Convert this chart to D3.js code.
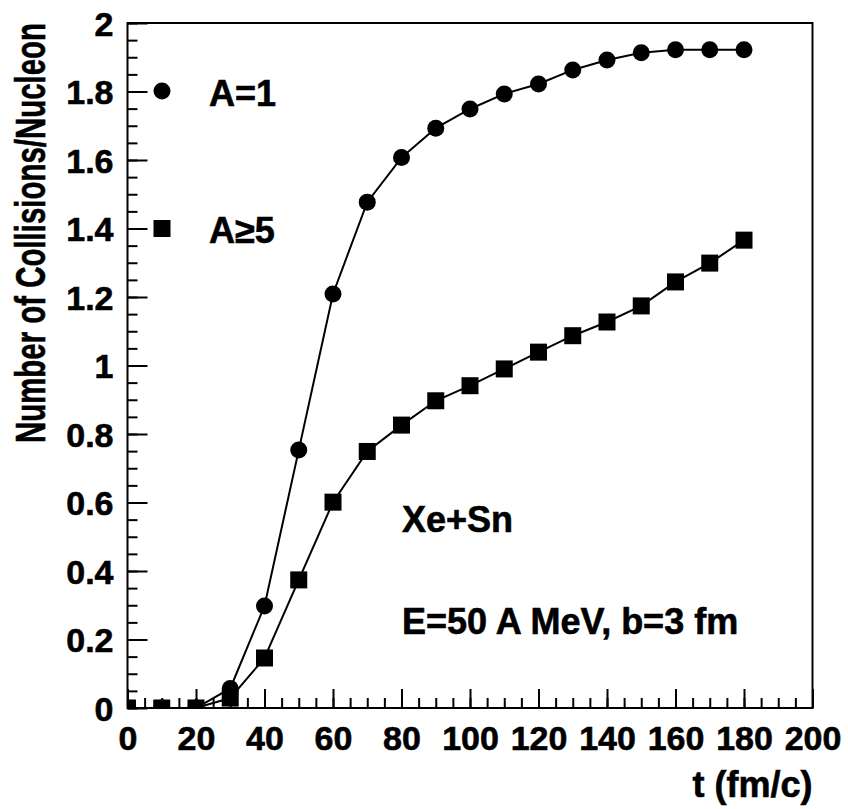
<!DOCTYPE html>
<html>
<head>
<meta charset="utf-8">
<script src="https://cdn.jsdelivr.net/npm/d3@7"></script>
<style>
  body { margin: 0; background: #fff; overflow: hidden; }
  svg { display: block; }
  text { font-family: "Liberation Sans", Arial, sans-serif; font-weight: bold; fill: #000; stroke: #000; stroke-width: 0.6px; }
</style>
</head>
<body>
<svg width="848" height="809"></svg>
<script>
// time steps (fm/c)
const tValues = [0, 10, 20, 30, 40, 50, 60, 70, 80, 90, 100, 110, 120, 130, 140, 150, 160, 170, 180];
// collisions per nucleon, A=1
const a1Values = [0, 0, 0, 0.057, 0.298, 0.753, 1.209, 1.477, 1.607, 1.693, 1.749, 1.793, 1.822, 1.863, 1.892, 1.913, 1.922, 1.922, 1.922];
// collisions per nucleon, A>=5
const a5Values = [0, 0, 0, 0.029, 0.146, 0.374, 0.601, 0.749, 0.826, 0.897, 0.941, 0.990, 1.039, 1.087, 1.127, 1.174, 1.244, 1.299, 1.366];
const xTicks = [0, 20, 40, 60, 80, 100, 120, 140, 160, 180, 200];
const yTicks = [0, 0.2, 0.4, 0.6, 0.8, 1, 1.2, 1.4, 1.6, 1.8, 2];
const xLabel = 't (fm/c)';
const yLabel = 'Number of Collisions/Nucleon';

const margin = { left: 127.5, right: 35.5, top: 23, bottom: 101 };
const svg = d3.select('svg');
const width = +svg.attr('width');
const height = +svg.attr('height');
const innerWidth = width - margin.left - margin.right;
const innerHeight = height - margin.top - margin.bottom;

const g = svg.append('g')
    .attr('transform', `translate(${margin.left},${margin.top})`);

const xScale = d3.scaleLinear().domain([0, 200]).range([0, innerWidth]);
const yScale = d3.scaleLinear().domain([0, 2]).range([innerHeight, 0]);

g.append('clipPath').attr('id', 'plotClip')
  .append('rect')
    .attr('width', innerWidth)
    .attr('height', innerHeight);

// minor ticks
const xMinor = d3.axisBottom(xScale).tickValues(d3.range(0, 201, 5)).tickSize(-10);
const yMinor = d3.axisLeft(yScale).tickValues(d3.range(0, 41).map(i => i * 0.05)).tickSize(-10);
const xMinorG = g.append('g').attr('transform', `translate(0,${innerHeight})`).call(xMinor);
const yMinorG = g.append('g').call(yMinor);
xMinorG.selectAll('.tick text').remove();
yMinorG.selectAll('.tick text').remove();

// major ticks + labels
const xAxis = d3.axisBottom(xScale).tickValues(xTicks).tickSize(-19).tickPadding(18).tickFormat(d3.format('d'));
const yAxis = d3.axisLeft(yScale).tickValues(yTicks).tickSize(-20).tickPadding(14).tickFormat(d => String(+d.toFixed(1)));
const xAxisG = g.append('g').attr('transform', `translate(0,${innerHeight})`).call(xAxis);
const yAxisG = g.append('g').call(yAxis);

g.selectAll('.domain').remove();
g.selectAll('.tick line').attr('stroke', '#000').attr('stroke-width', 2);
xAxisG.selectAll('.tick text')
    .attr('font-size', 34)
    .attr('y', 42)
    .attr('dy', 0);
yAxisG.selectAll('.tick text')
    .attr('font-size', 34)
    .attr('dy', '0.36em');

// frame
g.append('rect')
    .attr('width', innerWidth)
    .attr('height', innerHeight)
    .attr('fill', 'none')
    .attr('stroke', '#000')
    .attr('stroke-width', 2);

// axis titles
svg.append('text')
    .attr('x', margin.left + innerWidth)
    .attr('y', 797)
    .attr('text-anchor', 'end')
    .attr('font-size', 36)
    .text(xLabel);

svg.append('text')
    .attr('transform', `translate(45,443) rotate(-90)`)
    .attr('font-size', 42)
    .attr('textLength', 420)
    .attr('lengthAdjust', 'spacingAndGlyphs')
    .text(yLabel);

// series
const line = d3.line()
    .x(d => xScale(d[0]))
    .y(d => yScale(d[1]));

const series1 = tValues.map((t, i) => [t, a1Values[i]]);
const series5 = tValues.map((t, i) => [t, a5Values[i]]);

const plot = g.append('g').attr('clip-path', 'url(#plotClip)');

plot.append('path').datum(series1)
    .attr('d', line)
    .attr('fill', 'none')
    .attr('stroke', '#000')
    .attr('stroke-width', 2);
plot.append('path').datum(series5)
    .attr('d', line)
    .attr('fill', 'none')
    .attr('stroke', '#000')
    .attr('stroke-width', 2);

plot.selectAll('circle.a1').data(series1)
  .enter().append('circle')
    .attr('class', 'a1')
    .attr('cx', d => xScale(d[0]))
    .attr('cy', d => yScale(d[1]))
    .attr('r', 8.5)
    .attr('fill', '#000');

plot.selectAll('rect.a5').data(series5)
  .enter().append('rect')
    .attr('class', 'a5')
    .attr('x', d => xScale(d[0]) - 8.5)
    .attr('y', d => yScale(d[1]) - 8.5)
    .attr('width', 17)
    .attr('height', 17)
    .attr('fill', '#000');

// legend
const legend = svg.append('g');
legend.append('circle').attr('cx', 162).attr('cy', 91).attr('r', 8.5).attr('fill', '#000');
legend.append('text').attr('x', 209).attr('y', 106).attr('font-size', 36).text('A=1');
legend.append('rect').attr('x', 153.5).attr('y', 220).attr('width', 17).attr('height', 17).attr('fill', '#000');
legend.append('text').attr('x', 209).attr('y', 243).attr('font-size', 36).text('A\u22655');

// annotations
svg.append('text').attr('x', 402).attr('y', 532).attr('font-size', 36).text('Xe+Sn');
svg.append('text').attr('x', 402).attr('y', 634).attr('font-size', 36).text('E=50 A MeV, b=3 fm');
</script>
</body>
</html>
